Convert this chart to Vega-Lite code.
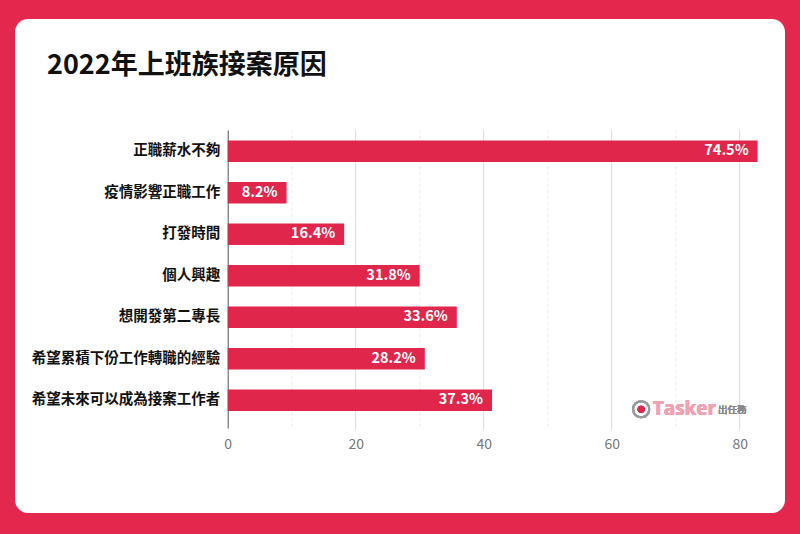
{
  "$schema": "https://vega.github.io/schema/vega-lite/v6.json",
  "autosize": {"type": "fit", "contains": "padding"},
  "width": 800,
  "height": 534,
  "padding": {"left": 15, "top": 19, "right": 15, "bottom": 21},
  "background": "#E4284D",
  "config": {
    "view": {"fill": "white", "stroke": null, "cornerRadius": 13},
    "font": "Noto Sans CJK TC"
  },
  "title": {
    "text": "2022年上班族接案原因",
    "anchor": "start",
    "frame": "group",
    "offset": -61,
    "dx": 32,
    "fontSize": 27,
    "fontWeight": "bold",
    "color": "#111111"
  },
  "datasets": {
    "reasons": [
      {"reason": "正職薪水不夠", "value": 82.8, "label": "74.5%"},
      {"reason": "疫情影響正職工作", "value": 9.2, "label": "8.2%"},
      {"reason": "打發時間", "value": 18.2, "label": "16.4%"},
      {"reason": "個人興趣", "value": 30.0, "label": "31.8%"},
      {"reason": "想開發第二專長", "value": 35.8, "label": "33.6%"},
      {"reason": "希望累積下份工作轉職的經驗", "value": 30.8, "label": "28.2%"},
      {"reason": "希望未來可以成為接案工作者", "value": 41.3, "label": "37.3%"}
    ],
    "majorGrid": [{"tick": 20}, {"tick": 40}, {"tick": 60}, {"tick": 80}],
    "minorGrid": [{"tick": 10}, {"tick": 30}, {"tick": 50}, {"tick": 70}]
  },
  "resolve": {"scale": {"y": "independent"}},
  "layer": [
    {
      "layer": [
        {
          "data": {"name": "minorGrid"},
          "mark": {"type": "rule", "color": "#ebebeb", "strokeWidth": 1, "strokeDash": [3, 3]},
          "encoding": {
            "x": {"field": "tick", "type": "quantitative", "scale": {"domain": [0, 80], "range": [212.7, 724.7], "nice": false, "zero": true}},
            "y": {"datum": 0, "type": "quantitative", "scale": {"domain": [0, 1], "range": [111, 411]}, "axis": null},
            "y2": {"datum": 1}
          }
        },
        {
          "data": {"name": "majorGrid"},
          "mark": {"type": "rule", "color": "#dcdcdc", "strokeWidth": 1},
          "encoding": {
            "x": {"field": "tick", "type": "quantitative"},
            "y": {"datum": 0, "type": "quantitative", "axis": null},
            "y2": {"datum": 1}
          }
        }
      ]
    },
    {
      "data": {"name": "reasons"},
      "layer": [
        {
          "mark": {"type": "bar", "color": "#E1264B"},
          "encoding": {
            "y": {
              "field": "reason",
              "type": "nominal",
              "sort": null,
              "scale": {"range": [111, 409], "paddingInner": 0.482, "paddingOuter": 0.331, "align": 0.382},
              "axis": {
                "title": null,
                "offset": -212.7,
                "domainColor": "#555555",
                "domainWidth": 1,
                "ticks": false,
                "grid": false,
                "labelPadding": 8,
                "labelFontSize": 14.5,
                "labelFontWeight": "bold",
                "labelColor": "#111111",
                "labelLimit": 300
              }
            },
            "x": {
              "field": "value",
              "type": "quantitative",
              "axis": {
                "title": null,
                "values": [0, 20, 40, 60, 80],
                "offset": -85,
                "domain": false,
                "ticks": false,
                "grid": false,
                "labelFlush": false,
                "labelPadding": 9,
                "labelFontSize": 14,
                "labelColor": "#777777"
              }
            }
          }
        },
        {
          "mark": {"type": "text", "align": "right", "baseline": "middle", "dx": -9, "color": "white", "fontSize": 14.5, "fontWeight": "bold"},
          "encoding": {
            "y": {"field": "reason", "type": "nominal", "sort": null},
            "x": {"field": "value", "type": "quantitative"},
            "text": {"field": "label"}
          }
        },
        {
          "mark": {"type": "point", "shape": "circle", "size": 260, "filled": false, "stroke": "#9a9a9a", "strokeWidth": 2, "yOffset": 9},
          "encoding": {
            "x": {"datum": 64.6},
            "y": {"datum": "希望未來可以成為接案工作者", "type": "nominal"}
          }
        },
        {
          "mark": {"type": "point", "shape": "circle", "size": 50, "filled": true, "color": "#E1264B", "opacity": 0.7, "yOffset": 9},
          "encoding": {
            "x": {"datum": 64.6},
            "y": {"datum": "希望未來可以成為接案工作者", "type": "nominal"}
          }
        },
        {
          "mark": {"type": "text", "align": "left", "baseline": "middle", "dy": 9, "text": "Tasker", "font": "Open Sans", "fontSize": 19, "fontWeight": "bold", "color": "#F2A1B3"},
          "encoding": {
            "x": {"datum": 66.4},
            "y": {"datum": "希望未來可以成為接案工作者", "type": "nominal"}
          }
        },
        {
          "mark": {"type": "text", "align": "left", "baseline": "middle", "dy": 10, "text": "出任務", "fontSize": 9.5, "color": "#8a8a8a"},
          "encoding": {
            "x": {"datum": 76.6},
            "y": {"datum": "希望未來可以成為接案工作者", "type": "nominal"}
          }
        }
      ]
    }
  ]
}
